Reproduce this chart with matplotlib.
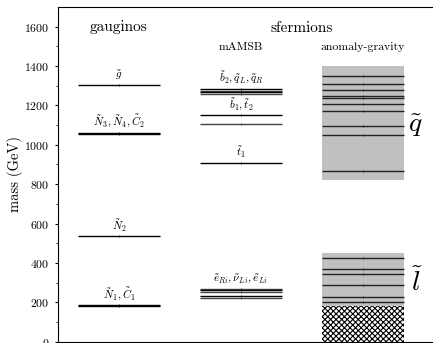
import numpy as np
import matplotlib
matplotlib.use("Agg")
import matplotlib.pyplot as plt
from matplotlib.patches import Rectangle

plt.rcParams['font.family'] = 'serif'
plt.rcParams['font.serif'] = ['cmr10', 'DejaVu Serif']
plt.rcParams['mathtext.fontset'] = 'cm'
plt.rcParams['axes.formatter.use_mathtext'] = True
plt.rcParams['hatch.linewidth'] = 0.8

# gaugino masses (GeV)
gaugino_masses = [1305, 1061, 1056, 537, 185, 181]
gaugino_labels = {1305: r'$\tilde{g}$', 1061: r'$\tilde{N}_3,\tilde{N}_4,\tilde{C}_2$',
                  537: r'$\tilde{N}_2$', 185: r'$\tilde{N}_1,\tilde{C}_1$'}

# mAMSB sfermion masses
mamsb_masses = [1283, 1275, 1266, 1257, 1150, 1108, 907, 267, 260, 253, 231, 220]
mamsb_labels = {1283: r'$\tilde{b}_2,\tilde{q}_L,\tilde{q}_R$', 1150: r'$\tilde{b}_1,\tilde{t}_2$',
                907: r'$\tilde{t}_1$', 267: r'$\tilde{e}_{Ri},\tilde{\nu}_{Li},\tilde{e}_{Li}$'}

# anomaly-gravity bands and sample lines
squark_band = (820, 1398)
squark_lines = [1351, 1311, 1277, 1246, 1236, 1208, 1172, 1094, 1052, 866]
slepton_band = (183, 450)
slepton_lines = [423, 370, 343, 289, 228, 200]
excluded = (0, 183)

fig = plt.figure(figsize=(4.33, 3.43), dpi=100)
ax = fig.add_axes([0.134, 0.004, 0.873, 0.9756])
ax.set_xlim(0.5, 3.6)
ax.set_ylim(0, 1700)

hw = 0.336


def level(x, m, lw=1.0, color='black'):
    ax.plot([x - hw, x + hw], [m, m], color=color, lw=lw, solid_capstyle='butt', zorder=3)
    ax.plot([x], [m], marker='|', ms=1.6, mew=0.6, color=color, zorder=4)


for m in gaugino_masses:
    level(1, m)
for m, t in gaugino_labels.items():
    ax.text(1, m + 12, t, ha='center', va='bottom', fontsize=8)

for i, m in enumerate(mamsb_masses):
    level(2, m, color='black' if i % 2 == 0 else '#444444')
for m, t in mamsb_labels.items():
    ax.text(2, m + 14, t, ha='center', va='bottom', fontsize=8)

ax.add_patch(Rectangle((3 - hw, squark_band[0]), 2 * hw, squark_band[1] - squark_band[0],
                       facecolor='#c0c0c0', edgecolor='none', zorder=1))
ax.add_patch(Rectangle((3 - hw, slepton_band[0]), 2 * hw, slepton_band[1] - slepton_band[0],
                       facecolor='#c0c0c0', edgecolor='none', zorder=1))
ax.add_patch(Rectangle((3 - hw, excluded[0]), 2 * hw, excluded[1] - excluded[0],
                       facecolor='white', edgecolor='black', hatch='xxxxxx', lw=0, zorder=1))
for m in squark_lines:
    level(3, m, color='#222222')
for m in slepton_lines:
    level(3, m, color='#222222')

ax.text(3.43, 1096, r'$\tilde{q}$', fontsize=20, ha='center', va='center')
ax.text(3.44, 297, r'$\tilde{l}$', fontsize=20, ha='center', va='center')

ax.text(1, 1600, 'gauginos', ha='center', va='center', fontsize=11)
ax.text(2.5, 1595, 'sfermions', ha='center', va='center', fontsize=11)
ax.text(2, 1495, 'mAMSB', ha='center', va='center', fontsize=8.5)
ax.text(3, 1495, 'anomaly-gravity', ha='center', va='center', fontsize=8.5)

ax.set_xticks([])
ax.set_yticks(np.arange(0, 1700, 200))
ax.set_yticks(np.arange(0, 1700, 100), minor=True)
ax.tick_params(axis='y', which='major', direction='out', length=2.5, labelsize=8.5)
ax.tick_params(axis='y', which='minor', direction='out', length=1.5)
ax.set_ylabel('mass (GeV)', fontsize=10.5, labelpad=1)

fig.savefig('out.png', dpi=100)
